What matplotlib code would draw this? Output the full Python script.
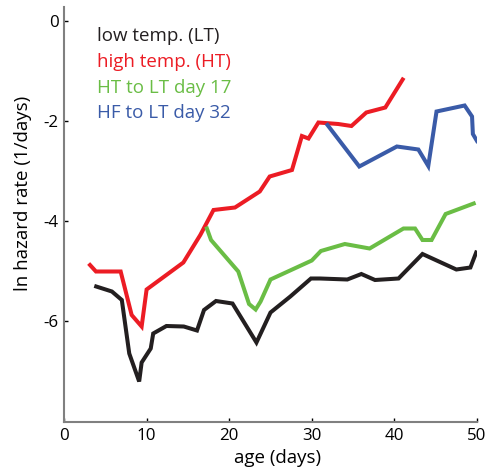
import matplotlib
matplotlib.use('Agg')
import matplotlib.pyplot as plt

# ln hazard rate curves
lt_age = [3.9, 5.8, 7.0, 7.9, 9.1, 9.4, 10.5, 10.8, 12.4, 14.5, 16.1, 16.95, 18.4, 20.4,
          23.3, 25.0, 27.4, 29.9, 31.0, 34.3, 36.0, 37.65, 40.5, 43.4, 47.5, 49.2, 49.9]
lt_rate = [-5.31, -5.41, -5.58, -6.65, -7.21, -6.83, -6.55, -6.25, -6.1, -6.11, -6.19, -5.78,
           -5.6, -5.65, -6.43, -5.83, -5.51, -5.15, -5.15, -5.17, -5.06, -5.18, -5.15, -4.66,
           -4.97, -4.93, -4.63]

ht_age = [3.15, 3.87, 6.86, 8.19, 9.4, 10.0, 14.45, 16.5, 18.1, 20.7, 23.7, 24.9, 27.6,
          28.8, 29.6, 30.8, 33.2, 34.8, 36.6, 38.9, 41.0]
ht_rate = [-4.88, -5.01, -5.01, -5.88, -6.11, -5.37, -4.83, -4.28, -3.78, -3.73, -3.41,
           -3.11, -2.98, -2.3, -2.35, -2.03, -2.06, -2.1, -1.83, -1.73, -1.17]

d17_age = [17.3, 17.8, 21.1, 22.4, 23.2, 23.8, 25.0, 30.0, 31.1, 34.0, 37.0, 41.1, 42.5,
           43.4, 44.5, 46.2, 49.6]
d17_rate = [-4.15, -4.38, -5.01, -5.66, -5.77, -5.61, -5.17, -4.79, -4.6, -4.46, -4.55,
            -4.15, -4.15, -4.38, -4.38, -3.86, -3.65]

d32_age = [31.9, 35.75, 40.3, 42.9, 44.1, 45.1, 48.5, 49.4, 49.5, 50.0]
d32_rate = [-2.08, -2.91, -2.51, -2.57, -2.9, -1.81, -1.69, -1.91, -2.26, -2.4]

labels = ['low temp. (LT)', 'high temp. (HT)', 'HT to LT day 17', 'HF to LT day 32']
colors = ['#231f20', '#ec1c24', '#6abd45', '#3a5ba8']

plt.rcParams['font.family'] = ['Open Sans', 'DejaVu Sans']
fs = 13.5

fig = plt.figure(figsize=(4.86, 4.69), dpi=100)
ax = fig.add_axes([64 / 486, 47 / 469, 413 / 486, 415 / 469])

series = [(lt_age, lt_rate), (ht_age, ht_rate), (d17_age, d17_rate), (d32_age, d32_rate)]
for (xs, ys), c in zip(series, colors):
    ax.plot(xs, ys, color=c, lw=2.9, solid_joinstyle='miter')

# legend as coloured text
for i, (lab, c) in enumerate(zip(labels, colors)):
    ax.text(0.08, -0.3 - 0.515 * i, lab, color=c, fontsize=fs,
            transform=ax.get_yaxis_transform(), va='center', ha='left')

ax.set_xlim(0, 50)
ax.set_ylim(-8.02, 0.28)
ax.set_xticks([0, 10, 20, 30, 40, 50])
ax.set_yticks([0, -2, -4, -6])
ax.set_yticklabels(['0', '-2', '-4', '-6'])

for s in ['top', 'right']:
    ax.spines[s].set_visible(False)
for s in ['left', 'bottom']:
    ax.spines[s].set_color('#808080')
    ax.spines[s].set_linewidth(1.5)

ax.tick_params(direction='in', length=3, width=1, color='black', labelsize=12.2, pad=4)

ax.set_xlabel('age (days)', fontsize=fs)
ax.set_ylabel('ln hazard rate (1/days)', fontsize=fs)
ax.xaxis.set_label_coords(0.518, -0.087)
ax.yaxis.set_label_coords(-0.10, 0.55)
ax.xaxis.label.set_va('center')
ax.yaxis.label.set_va('center')

plt.savefig('out.png', dpi=100)
plt.close('all')
